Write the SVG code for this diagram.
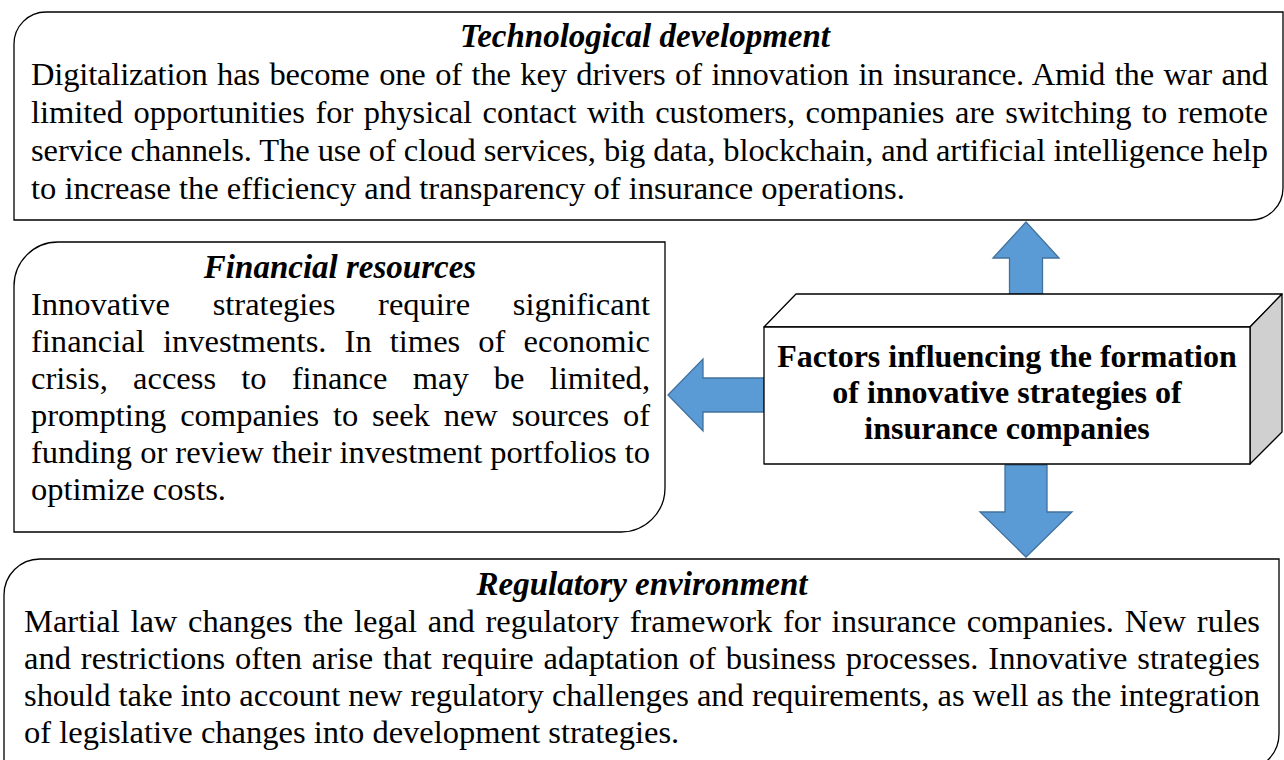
<svg xmlns="http://www.w3.org/2000/svg" width="1284" height="760" viewBox="0 0 1284 760">
<style>
.box{fill:#fff;stroke:#000;stroke-width:1.3}
.t{font-family:"Liberation Serif","Times New Roman",serif;font-size:32.5px;fill:#000}
.h{font-family:"Liberation Serif","Times New Roman",serif;font-size:33px;font-weight:bold;font-style:italic;fill:#000;text-anchor:middle}
.c{font-family:"Liberation Serif","Times New Roman",serif;font-size:32px;font-weight:bold;fill:#000;text-anchor:middle}
.arrow{fill:#5B9BD5;stroke:#41719C;stroke-width:1.3}
.cube{stroke:#000;stroke-width:1.3;stroke-linejoin:round}
</style>
<rect width="1284" height="760" fill="#fff"/>
<g id="tech">
<path class="box" d="M46,12 H1283 V188 A32,32 0 0 1 1251,220 H14 V44 A32,32 0 0 1 46,12 Z"/>
<text class="h" x="645" y="47">Technological development</text>
<text class="t" x="31" y="85" word-spacing="1.6" textLength="1237" lengthAdjust="spacing">Digitalization has become one of the key drivers of innovation in insurance. Amid the war and</text>
<text class="t" x="31" y="123" word-spacing="2.4" textLength="1237" lengthAdjust="spacing">limited opportunities for physical contact with customers, companies are switching to remote</text>
<text class="t" x="31" y="161" textLength="1237" lengthAdjust="spacing">service channels. The use of cloud services, big data, blockchain, and artificial intelligence help</text>
<text class="t" x="31" y="199">to increase the efficiency and transparency of insurance operations.</text>
</g>
<g id="financial">
<path class="box" d="M58,242 H665 V488 A44,44 0 0 1 621,532 H14 V286 A44,44 0 0 1 58,242 Z"/>
<text class="h" x="340" y="278">Financial resources</text>
<text class="t" x="31" y="315" word-spacing="34.5" textLength="619" lengthAdjust="spacing">Innovative strategies require significant</text>
<text class="t" x="31" y="352" word-spacing="10" textLength="619" lengthAdjust="spacing">financial investments. In times of economic</text>
<text class="t" x="31" y="389" word-spacing="17" textLength="619" lengthAdjust="spacing">crisis, access to finance may be limited,</text>
<text class="t" x="31" y="426" word-spacing="5.7" textLength="619" lengthAdjust="spacing">prompting companies to seek new sources of</text>
<text class="t" x="31" y="463" textLength="619" lengthAdjust="spacing">funding or review their investment portfolios to</text>
<text class="t" x="31" y="500">optimize costs.</text>
</g>
<g id="regulatory">
<path class="box" d="M40,559 H1279 V734 A36,36 0 0 1 1243,770 H4 V595 A36,36 0 0 1 40,559 Z"/>
<text class="h" x="642" y="595">Regulatory environment</text>
<text class="t" x="24" y="632" word-spacing="2.6" textLength="1236" lengthAdjust="spacing">Martial law changes the legal and regulatory framework for insurance companies. New rules</text>
<text class="t" x="24" y="669" word-spacing="1.75" textLength="1236" lengthAdjust="spacing">and restrictions often arise that require adaptation of business processes. Innovative strategies</text>
<text class="t" x="24" y="706" textLength="1236" lengthAdjust="spacing">should take into account new regulatory challenges and requirements, as well as the integration</text>
<text class="t" x="24" y="743">of legislative changes into development strategies.</text>
</g>
<g id="connectors">
<polygon class="arrow" points="1026,222 1059,258 1042.5,258 1042.5,294 1009.5,294 1009.5,258 993,258"/>
<polygon class="arrow" points="668,395 703,359 703,378 764,378 764,412 703,412 703,431"/>
<polygon class="arrow" points="1005,465 1047,465 1047,512 1072,512 1026,557 980,512 1005,512"/>
</g>
<g id="center">
<polygon class="cube" fill="#fff" points="764,327 796,294 1282,294 1250,327"/>
<polygon class="cube" fill="#d0d0d0" points="1250,327 1282,294 1282,432 1250,464"/>
<rect class="cube" fill="#fff" x="764" y="327" width="486" height="137"/>
<text class="c" x="1007" y="367">Factors influencing the formation</text>
<text class="c" x="1007" y="403">of innovative strategies of</text>
<text class="c" x="1007" y="439">insurance companies</text>
</g>
</svg>
